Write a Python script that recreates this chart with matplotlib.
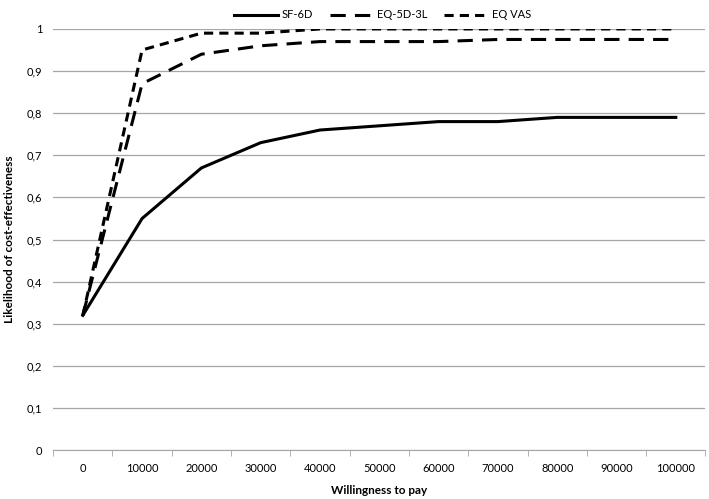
import matplotlib
matplotlib.use("Agg")
import matplotlib.pyplot as plt
from matplotlib.ticker import FuncFormatter

plt.rcParams['font.family'] = ['Lato', 'DejaVu Sans']

# willingness to pay categories
wtp = ["0", "10000", "20000", "30000", "40000", "50000", "60000", "70000", "80000", "90000", "100000"]
sf6d = [0.32, 0.55, 0.67, 0.73, 0.76, 0.77, 0.78, 0.78, 0.79, 0.79, 0.79]
eq5d = [0.32, 0.87, 0.94, 0.96, 0.97, 0.97, 0.97, 0.975, 0.975, 0.975, 0.975]
eqvas = [0.32, 0.95, 0.99, 0.99, 1.0, 1.0, 1.0, 1.0, 1.0, 1.0, 1.0]

fig = plt.figure(figsize=(7.09, 4.99), dpi=100)
ax = fig.add_axes([0.075, 0.098, 0.920, 0.844])

x = list(range(len(wtp)))
ax.plot(x, sf6d, color="black", lw=2.2, label="SF-6D")
ax.plot(x, eq5d, color="black", lw=2.2, dashes=(5, 3), label="EQ-5D-3L")
ax.plot(x, eqvas, color="black", lw=2.2, dashes=(3, 2), label="EQ VAS")

ax.set_xlim(-0.5, len(wtp) - 0.5)
ax.set_ylim(0, 1)
ax.set_yticks([i / 10 for i in range(11)])
ax.yaxis.set_major_formatter(FuncFormatter(lambda v, p: ("%.1f" % v).replace(".", ",") if 0 < v < 1 else "%d" % round(v)))
ax.grid(axis="y", color="#a6a6a6", lw=0.9)
ax.set_axisbelow(True)

ax.set_xticks(x)
ax.set_xticklabels(wtp)
ax.set_xticks([i + 0.5 for i in range(-1, len(wtp))], minor=True)
ax.tick_params(axis="x", which="major", length=0, pad=9, labelsize=8)
ax.tick_params(axis="x", which="minor", length=4, color="#a6a6a6", direction="out")
ax.tick_params(axis="y", length=0, labelsize=8, pad=8)

for s in ["top", "right", "left"]:
    ax.spines[s].set_visible(False)
ax.spines["bottom"].set_color("#a6a6a6")

ax.set_xlabel("Willingness to pay", fontsize=8.5, fontweight="bold", labelpad=8)
ax.set_ylabel("Likelihood of cost-effectiveness", fontsize=8.5, fontweight="bold", labelpad=8)

ax.legend(loc="upper center", bbox_to_anchor=(0.505, 1.07), ncol=3, frameon=False,
          fontsize=8, handlelength=4, columnspacing=1.5, handletextpad=0.3)

fig.savefig("out.png", dpi=100)
